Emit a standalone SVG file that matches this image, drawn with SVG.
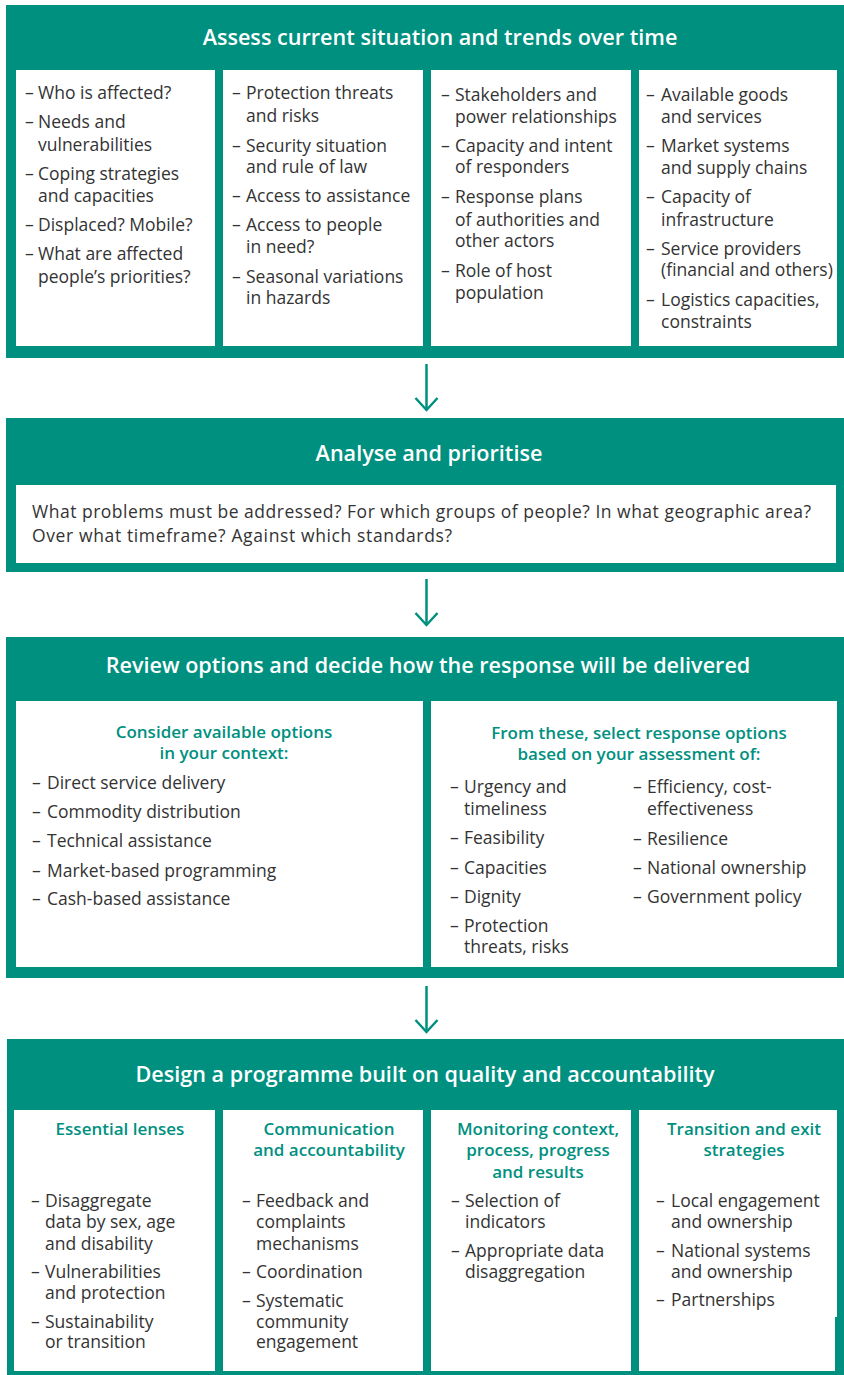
<svg xmlns="http://www.w3.org/2000/svg" width="844" height="1375" viewBox="0 0 844 1375">
<defs>
<style>
.band{fill:#00907f}
.panel{fill:#ffffff}
.title{font-family:"Open Sans","Liberation Sans",sans-serif;font-weight:600;font-size:21.6px;fill:#ffffff;text-anchor:middle}
.body{font-family:"Open Sans","Liberation Sans",sans-serif;font-size:17.5px;fill:#333333}
.head{font-family:"Open Sans","Liberation Sans",sans-serif;font-weight:600;font-size:17px;fill:#00907f;text-anchor:middle}
.conn{stroke:#00907f;stroke-width:2.5;fill:none}
</style>
<marker id="chev" markerUnits="userSpaceOnUse" markerWidth="30" markerHeight="30" viewBox="-15 -15 30 30" refX="0" refY="0" orient="auto" overflow="visible">
<path d="M-12,-11 L0,0 L-12,11" fill="none" stroke="#00907f" stroke-width="2.5"/>
</marker>
</defs>
<rect width="844" height="1375" fill="#ffffff"/>

<g id="assess">
<rect class="band" x="6" y="5" width="838" height="353"/>
<text class="title" x="440" y="45">Assess current situation and trends over time</text>
<rect class="panel" x="16" y="70" width="199" height="276"/>
<rect class="panel" x="223" y="70" width="200" height="276"/>
<rect class="panel" x="431" y="70" width="200" height="276"/>
<rect class="panel" x="639" y="70" width="198" height="276"/>
<text class="body"><tspan x="25" y="99">–</tspan><tspan x="38" y="99">Who is affected?</tspan></text>
<text class="body"><tspan x="25" y="128">–</tspan><tspan x="38" y="128">Needs and</tspan><tspan x="38" y="151">vulnerabilities</tspan></text>
<text class="body"><tspan x="25" y="180">–</tspan><tspan x="38" y="180">Coping strategies</tspan><tspan x="38" y="202">and capacities</tspan></text>
<text class="body"><tspan x="25" y="231">–</tspan><tspan x="38" y="231">Displaced? Mobile?</tspan></text>
<text class="body"><tspan x="25" y="260">–</tspan><tspan x="38" y="260">What are affected</tspan><tspan x="38" y="283">people’s priorities?</tspan></text>

<text class="body"><tspan x="232" y="99">–</tspan><tspan x="246" y="99">Protection threats</tspan><tspan x="246" y="122">and risks</tspan></text>
<text class="body"><tspan x="232" y="152">–</tspan><tspan x="246" y="152">Security situation</tspan><tspan x="246" y="173">and rule of law</tspan></text>
<text class="body"><tspan x="232" y="202">–</tspan><tspan x="246" y="202">Access to assistance</tspan></text>
<text class="body"><tspan x="232" y="231">–</tspan><tspan x="246" y="231">Access to people</tspan><tspan x="246" y="253">in need?</tspan></text>
<text class="body"><tspan x="232" y="283">–</tspan><tspan x="246" y="283">Seasonal variations</tspan><tspan x="246" y="304">in hazards</tspan></text>

<text class="body"><tspan x="441" y="101">–</tspan><tspan x="455" y="101">Stakeholders and</tspan><tspan x="455" y="123">power relationships</tspan></text>
<text class="body"><tspan x="441" y="152">–</tspan><tspan x="455" y="152">Capacity and intent</tspan><tspan x="455" y="173">of responders</tspan></text>
<text class="body"><tspan x="441" y="203">–</tspan><tspan x="455" y="203">Response plans</tspan><tspan x="455" y="226">of authorities and</tspan><tspan x="455" y="247">other actors</tspan></text>
<text class="body"><tspan x="441" y="277">–</tspan><tspan x="455" y="277">Role of host</tspan><tspan x="455" y="299">population</tspan></text>

<text class="body"><tspan x="646" y="101">–</tspan><tspan x="661" y="101">Available goods</tspan><tspan x="661" y="123">and services</tspan></text>
<text class="body"><tspan x="646" y="152">–</tspan><tspan x="661" y="152">Market systems</tspan><tspan x="661" y="174">and supply chains</tspan></text>
<text class="body"><tspan x="646" y="203">–</tspan><tspan x="661" y="203">Capacity of</tspan><tspan x="661" y="226">infrastructure</tspan></text>
<text class="body"><tspan x="646" y="255">–</tspan><tspan x="661" y="255">Service providers</tspan><tspan x="661" y="276">(financial and others)</tspan></text>
<text class="body"><tspan x="646" y="306">–</tspan><tspan x="661" y="306">Logistics capacities,</tspan><tspan x="661" y="328">constraints</tspan></text>
</g>

<g id="analyse">
<rect class="band" x="6" y="418" width="838" height="154"/>
<text class="title" x="429" y="461">Analyse and prioritise</text>
<rect class="panel" x="16" y="485" width="820" height="78"/>
<text class="body" x="32" y="518" textLength="779" lengthAdjust="spacing">What problems must be addressed? For which groups of people? In what geographic area?</text>
<text class="body" x="32" y="542" textLength="420" lengthAdjust="spacing">Over what timeframe? Against which standards?</text>
</g>

<g id="review">
<rect class="band" x="6" y="637" width="838" height="341"/>
<text class="title" x="428" y="673">Review options and decide how the response will be delivered</text>
<rect class="panel" x="16" y="701" width="407" height="266"/>
<rect class="panel" x="431" y="701" width="406" height="266"/>
<text class="head"><tspan x="224" y="738">Consider available options</tspan><tspan x="224" y="759">in your context:</tspan></text>
<text class="body"><tspan x="32" y="789">–</tspan><tspan x="47" y="789">Direct service delivery</tspan></text>
<text class="body"><tspan x="32" y="818">–</tspan><tspan x="47" y="818">Commodity distribution</tspan></text>
<text class="body"><tspan x="32" y="847">–</tspan><tspan x="47" y="847">Technical assistance</tspan></text>
<text class="body"><tspan x="32" y="877">–</tspan><tspan x="47" y="877">Market-based programming</tspan></text>
<text class="body"><tspan x="32" y="905">–</tspan><tspan x="47" y="905">Cash-based assistance</tspan></text>

<text class="head"><tspan x="639" y="739">From these, select response options</tspan><tspan x="639" y="760">based on your assessment of:</tspan></text>
<text class="body"><tspan x="450" y="793">–</tspan><tspan x="464" y="793">Urgency and</tspan><tspan x="464" y="815">timeliness</tspan></text>
<text class="body"><tspan x="450" y="844">–</tspan><tspan x="464" y="844">Feasibility</tspan></text>
<text class="body"><tspan x="450" y="874">–</tspan><tspan x="464" y="874">Capacities</tspan></text>
<text class="body"><tspan x="450" y="903">–</tspan><tspan x="464" y="903">Dignity</tspan></text>
<text class="body"><tspan x="450" y="932">–</tspan><tspan x="464" y="932">Protection</tspan><tspan x="464" y="953">threats, risks</tspan></text>
<text class="body"><tspan x="633" y="793">–</tspan><tspan x="647" y="793">Efficiency, cost-</tspan><tspan x="647" y="815">effectiveness</tspan></text>
<text class="body"><tspan x="633" y="845">–</tspan><tspan x="647" y="845">Resilience</tspan></text>
<text class="body"><tspan x="633" y="874">–</tspan><tspan x="647" y="874">National ownership</tspan></text>
<text class="body"><tspan x="633" y="903">–</tspan><tspan x="647" y="903">Government policy</tspan></text>
</g>

<g id="design">
<rect class="band" x="7" y="1039" width="837" height="336"/>
<text class="title" x="425" y="1082">Design a programme built on quality and accountability</text>
<rect class="panel" x="14" y="1110" width="201" height="261"/>
<rect class="panel" x="223" y="1110" width="200" height="261"/>
<rect class="panel" x="431" y="1110" width="200" height="261"/>
<path class="panel" d="M639,1110 H837 V1317 H835 V1371 H639 Z"/>
<text class="head"><tspan x="120" y="1135">Essential lenses</tspan></text>
<text class="body"><tspan x="31" y="1207">–</tspan><tspan x="45" y="1207">Disaggregate</tspan><tspan x="45" y="1228">data by sex, age</tspan><tspan x="45" y="1250">and disability</tspan></text>
<text class="body"><tspan x="31" y="1278">–</tspan><tspan x="45" y="1278">Vulnerabilities</tspan><tspan x="45" y="1299">and protection</tspan></text>
<text class="body"><tspan x="31" y="1328">–</tspan><tspan x="45" y="1328">Sustainability</tspan><tspan x="45" y="1348">or transition</tspan></text>

<text class="head"><tspan x="329" y="1135">Communication</tspan><tspan x="329" y="1156">and accountability</tspan></text>
<text class="body"><tspan x="242" y="1207">–</tspan><tspan x="256" y="1207">Feedback and</tspan><tspan x="256" y="1228">complaints</tspan><tspan x="256" y="1250">mechanisms</tspan></text>
<text class="body"><tspan x="242" y="1278">–</tspan><tspan x="256" y="1278">Coordination</tspan></text>
<text class="body"><tspan x="242" y="1307">–</tspan><tspan x="256" y="1307">Systematic</tspan><tspan x="256" y="1328">community</tspan><tspan x="256" y="1348">engagement</tspan></text>

<text class="head"><tspan x="538" y="1135">Monitoring context,</tspan><tspan x="538" y="1156">process, progress</tspan><tspan x="538" y="1178">and results</tspan></text>
<text class="body"><tspan x="451" y="1207">–</tspan><tspan x="465" y="1207">Selection of</tspan><tspan x="465" y="1228">indicators</tspan></text>
<text class="body"><tspan x="451" y="1257">–</tspan><tspan x="465" y="1257">Appropriate data</tspan><tspan x="465" y="1278">disaggregation</tspan></text>

<text class="head"><tspan x="744" y="1135">Transition and exit</tspan><tspan x="744" y="1156">strategies</tspan></text>
<text class="body"><tspan x="656" y="1207">–</tspan><tspan x="671" y="1207">Local engagement</tspan><tspan x="671" y="1228">and ownership</tspan></text>
<text class="body"><tspan x="656" y="1257">–</tspan><tspan x="671" y="1257">National systems</tspan><tspan x="671" y="1278">and ownership</tspan></text>
<text class="body"><tspan x="656" y="1306">–</tspan><tspan x="671" y="1306">Partnerships</tspan></text>
</g>

<g id="connectors">
<line class="conn" x1="426.5" y1="364" x2="426.5" y2="410" marker-end="url(#chev)"/>
<line class="conn" x1="426.5" y1="579" x2="426.5" y2="625" marker-end="url(#chev)"/>
<line class="conn" x1="426.5" y1="986" x2="426.5" y2="1032" marker-end="url(#chev)"/>
</g>
</svg>
